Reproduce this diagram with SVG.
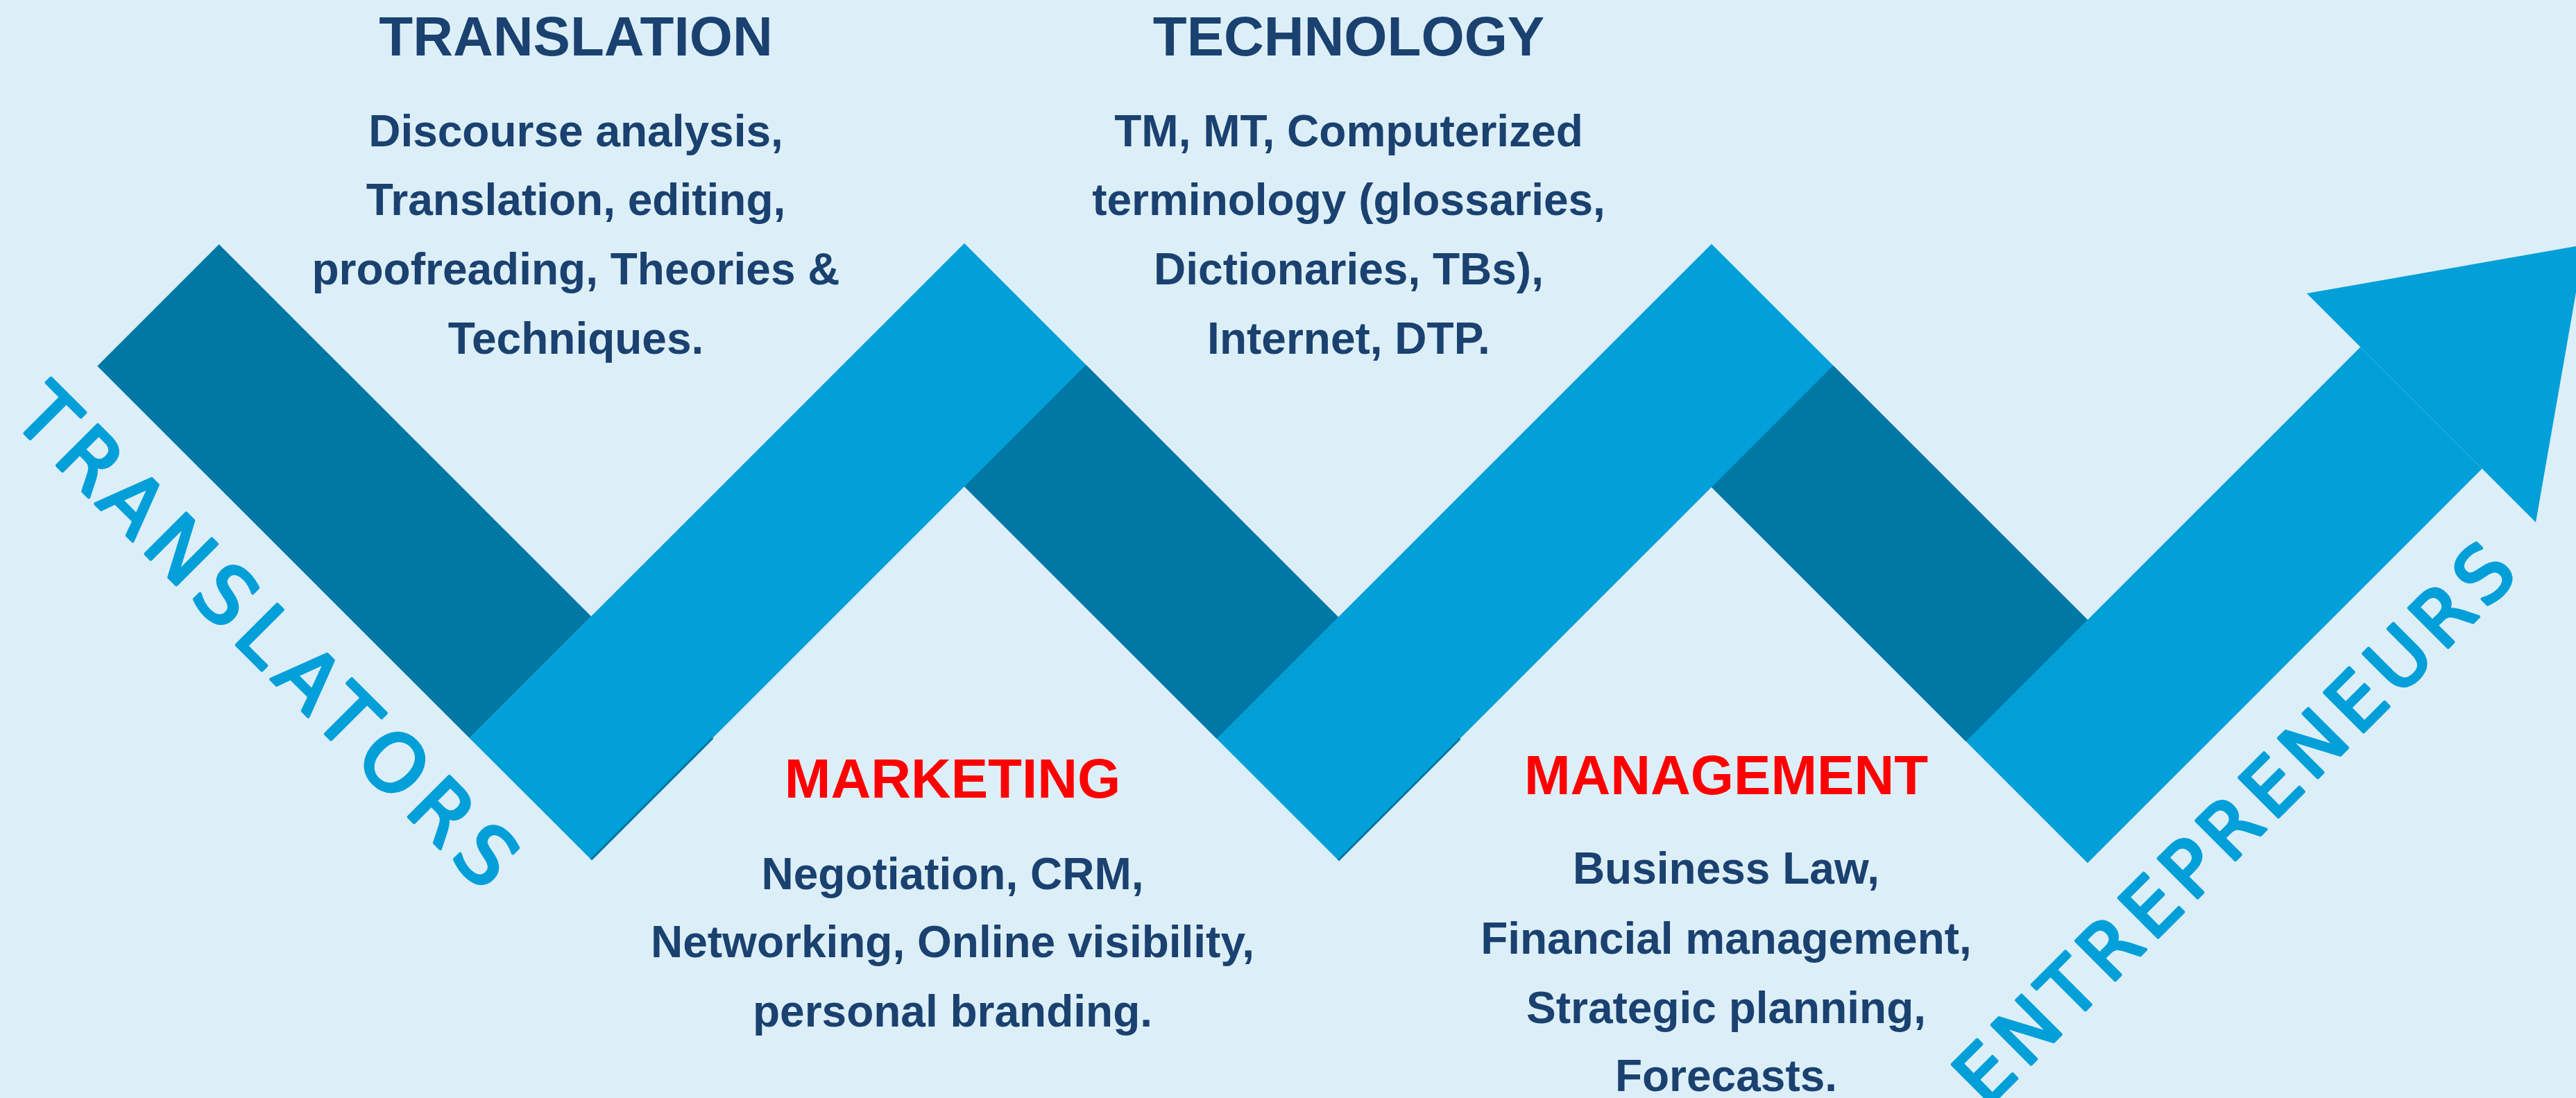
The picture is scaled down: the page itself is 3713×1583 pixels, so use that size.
<svg xmlns="http://www.w3.org/2000/svg" width="3713" height="1583" viewBox="0 0 3713 1583">
<style>
.h{font-family:"Liberation Sans",Arial,sans-serif;font-weight:bold;font-size:80px;text-anchor:middle}
.b{font-family:"Liberation Sans",Arial,sans-serif;font-weight:bold;font-size:64px;text-anchor:middle;fill:#1A416F}
.navy{fill:#1A416F}
.red{fill:#FF0000}
.dark{fill:#0077A4}
.light{fill:#029FD9}
.side{font-family:"DejaVu Sans",Verdana,sans-serif;fill:#029FD9;stroke:#029FD9;stroke-width:4.5px;stroke-linejoin:round}
</style>
<rect width="3713" height="1583" fill="#DCEFF8"/>
<g id="zigzag">
<polyline points="764.3,976.3 852,1064 1390,526 1929,1065 2467,527 3009,1069 3490,588" fill="none" stroke="#029FD9" stroke-width="248" stroke-linejoin="miter" stroke-miterlimit="4" stroke-linecap="butt"/>
<polygon class="light" points="3325,423 3725,353 3655,753"/>
<polygon class="dark" points="315.7,352.3 852,888.6 676.6,1064 140.3,527.7"/>
<polygon class="dark" points="1565.4,526 1929,889.6 1753.6,1065 1390,701.4"/>
<polygon class="dark" points="2642.4,527 3009,893.6 2833.6,1069 2467,702.4"/>
<line x1="852" y1="1239.4" x2="1027.4" y2="1064" stroke="#0077A4" stroke-width="3"/>
<line x1="1929" y1="1240.4" x2="2104.4" y2="1065" stroke="#0077A4" stroke-width="3"/>
</g>
<g id="translation">
<text class="h navy" x="830" y="80">TRANSLATION</text>
<text class="b" x="830" y="211">Discourse analysis,</text>
<text class="b" x="830" y="310">Translation, editing,</text>
<text class="b" x="830" y="410">proofreading, Theories &amp;</text>
<text class="b" x="830" y="510">Techniques.</text>
</g>
<g id="technology">
<text class="h navy" x="1944" y="80">TECHNOLOGY</text>
<text class="b" x="1944" y="211">TM, MT, Computerized</text>
<text class="b" x="1944" y="310">terminology (glossaries,</text>
<text class="b" x="1944" y="410">Dictionaries, TBs),</text>
<text class="b" x="1944" y="510">Internet, DTP.</text>
</g>
<g id="marketing">
<text class="h red" x="1373" y="1150">MARKETING</text>
<text class="b" x="1373" y="1282">Negotiation, CRM,</text>
<text class="b" x="1373" y="1380">Networking, Online visibility,</text>
<text class="b" x="1373" y="1480">personal branding.</text>
</g>
<g id="management">
<text class="h red" x="2488" y="1145">MANAGEMENT</text>
<text class="b" x="2488" y="1274">Business Law,</text>
<text class="b" x="2488" y="1375">Financial management,</text>
<text class="b" x="2488" y="1475">Strategic planning,</text>
<text class="b" x="2488" y="1573">Forecasts.</text>
</g>
<g id="translators">
<text class="side" font-size="114" letter-spacing="14" transform="translate(15,604) rotate(45)">TRANSLATORS</text>
</g>
<g id="entrepreneurs">
<text class="side" font-size="110" letter-spacing="11" transform="translate(2863,1599) rotate(-45)">ENTREPRENEURS</text>
</g>
</svg>
